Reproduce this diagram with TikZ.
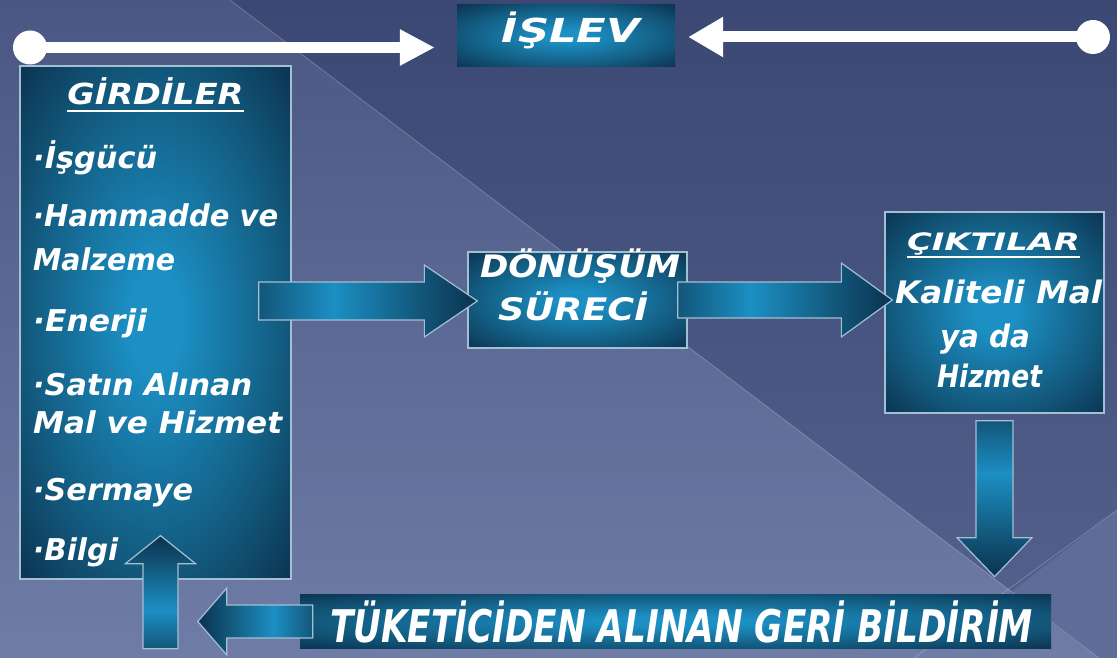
\documentclass[tikz,border=0pt]{standalone}
\usepackage{fontspec}
\setmainfont{DejaVu Sans}
\usepackage{graphicx}
\usetikzlibrary{calc,arrows.meta}

\definecolor{bgtop}{HTML}{3A4873}
\definecolor{bgbot}{HTML}{55628D}
\definecolor{lftop}{HTML}{4A5783}
\definecolor{lfbot}{HTML}{6E7CA6}
\definecolor{brcol}{HTML}{5F6C97}
\definecolor{boxbright}{HTML}{1C8FC3}
\definecolor{boxmid}{HTML}{125679}
\definecolor{boxdark}{HTML}{0B3250}
\definecolor{edgecol}{HTML}{A3BFD2}

\pgfdeclareradialshading{boxshade}{\pgfpoint{0bp}{0bp}}{color(0bp)=(boxbright); color(5bp)=(boxbright); color(25bp)=(boxmid); color(36bp)=(boxdark); color(50bp)=(boxdark)}
\pgfdeclarehorizontalshading{arrshade}{100bp}{color(0bp)=(boxmid); color(25bp)=(boxmid); color(42bp)=(boxbright); color(62bp)=(boxmid); color(75bp)=(boxdark); color(100bp)=(boxdark)}

\newcommand{\fitw}[2]{\resizebox{#1}{\height}{#2}}

\newcommand{\blockarr}[6]{%
  \coordinate (ba-h) at ($(#2)!#5!(#1)$);
  \path[#6] ($(#1)!#3!90:(#2)$) -- ($(ba-h)!#3!90:(#2)$) -- ($(ba-h)!#4!90:(#2)$) -- (#2) -- ($(ba-h)!#4!-90:(#2)$) -- ($(ba-h)!#3!-90:(#2)$) -- ($(#1)!#3!-90:(#2)$) -- cycle;}

\tikzset{
  boxn/.style={rectangle, draw=edgecol, line width=1.3pt, shade, shading=boxshade, inner sep=0pt},
  boxnb/.style={rectangle, shade, shading=boxshade, inner sep=0pt},
  barrow/.style={draw=edgecol, line width=1.2pt, shade, shading=arrshade},
  txt/.style={text=white, inner sep=0pt, font=\bfseries\itshape\fontsize{30}{34}\selectfont},
  wline/.style={white, line width=11pt},
  dotn/.style={circle, fill=white, minimum size=34pt, inner sep=0pt},
  bgline/.style={white, opacity=0.22, line width=0.8pt},
  uline/.style={white, line width=2pt}
}

\begin{document}
\begin{tikzpicture}[x=1pt,y=-1pt]
\useasboundingbox (0,0) rectangle (1117,658);
% background
\shade[top color=bgtop, bottom color=bgbot] (0,0) rectangle (1117,658);
\shade[top color=lftop, bottom color=lfbot] (0,0) -- (230,0) -- (1099,658) -- (0,658) -- cycle;
\fill[brcol] (1010,593) -- (1117,510) -- (1117,658) -- (1099,658) -- cycle;
\draw[bgline] (230,0) -- (1099,658);
\draw[bgline] (1117,510) -- (914,658);

% top function box and white arrows
\node[boxnb, minimum width=218pt, minimum height=62pt] (islev) at (566,36) {};
\node[txt, anchor=base] (islevt) at (571,43) {\fontsize{33}{36}\selectfont\fitw{138pt}{İŞLEV}};
\coordinate (lcc) at (30,47.5);
\coordinate (rcc) at (1093,37);
\coordinate (lt) at ($(islev.west)+(-22,11.5)$);
\coordinate (rt) at ($(islev.east)+(13,1)$);
\draw[wline, -{Triangle[length=35pt,width=34pt]}] (lcc) -- (lt);
\draw[wline, -{Triangle[length=35pt,width=38pt]}] (rcc) -- (rt);
\node[dotn] (lc) at (lcc) {};
\node[dotn] (rc) at (rcc) {};

% boxes
\node[boxn, minimum width=271pt, minimum height=513pt] (gir) at (155.5,322.5) {};
\node[boxn, minimum width=219pt, minimum height=96pt] (don) at (577.5,300) {};
\node[boxn, minimum width=219pt, minimum height=201pt] (cik) at (994.5,312.5) {};
\node[boxnb, minimum width=751pt, minimum height=54pt] (fb) at (675.5,621) {};

% inputs text
\node[txt, anchor=base] (gt) at (155.5,105) {\fontsize{29}{34}\selectfont\fitw{176pt}{GİRDİLER}};
\draw[uline] ([yshift=-6pt]gt.base west) -- ([yshift=-6pt]gt.base east);
\node[txt, anchor=base west] (g1) at (33,168) {\fitw{124pt}{·İşgücü}};
\node[txt, anchor=base west] (g2) at (33,226) {\fitw{245pt}{·Hammadde ve}};
\node[txt, anchor=base west] (g3) at (33,270) {\fitw{142pt}{Malzeme}};
\node[txt, anchor=base west] (g4) at (33,331) {\fitw{114pt}{·Enerji}};
\node[txt, anchor=base west] (g5) at (33,395) {\fitw{219pt}{·Satın Alınan}};
\node[txt, anchor=base west] (g6) at (33,433) {\fitw{249pt}{Mal ve Hizmet}};
\node[txt, anchor=base west] (g7) at (33,500) {\fitw{160pt}{·Sermaye}};
\node[txt, anchor=base west] (g8) at (33,560) {\fitw{85pt}{·Bilgi}};

% process text
\node[txt, anchor=base] (d1) at (580,277) {\fontsize{31}{36}\selectfont\fitw{200pt}{DÖNÜŞÜM}};
\node[txt, anchor=base] (d2) at (573,320) {\fontsize{31}{36}\selectfont\fitw{150pt}{SÜRECİ}};

% outputs text
\node[txt, anchor=base] (ct) at (993.5,250) {\fontsize{24}{30}\selectfont\fitw{173pt}{ÇIKTILAR}};
\draw[uline] ([yshift=-7pt]ct.base west) -- ([yshift=-7pt]ct.base east);
\node[txt, anchor=base] (c1) at (998.5,303) {\fontsize{31}{36}\selectfont\fitw{207pt}{Kaliteli Mal}};
\node[txt, anchor=base] (c2) at (985,347) {\fontsize{31}{36}\selectfont\fitw{90pt}{ya da}};
\node[txt, anchor=base] (c3) at (989.5,387) {\fontsize{31}{36}\selectfont\fitw{105pt}{Hizmet}};

% feedback text
\node[txt, anchor=base] (fbt) at (681.5,642) {\fontsize{45}{50}\selectfont\fitw{703pt}{TÜKETİCİDEN ALINAN GERİ BİLDİRİM}};

% block arrows
\coordinate (a1s) at ($(gir.east)+(-33,-21.5)$);
\coordinate (a1t) at ($(don.west)+(10,1)$);
\blockarr{a1s}{a1t}{19pt}{36pt}{53pt}{barrow}
\coordinate (a2s) at ($(don.east)+(-10,0)$);
\coordinate (a2t) at ($(cik.west)+(8,-12.5)$);
\blockarr{a2s}{a2t}{18pt}{37pt}{51pt}{barrow}
\coordinate (a3s) at ($(cik.south)+(0,7)$);
\coordinate (a3t) at ($(cik.south)+(0,163)$);
\blockarr{a3s}{a3t}{18.5pt}{37.5pt}{39pt}{barrow, shading angle=-90}
\coordinate (a4s) at ($(fb.west)+(13,0.5)$);
\coordinate (a4t) at ($(fb.west)+(-102,0.5)$);
\blockarr{a4s}{a4t}{16.5pt}{33.5pt}{29pt}{barrow, shading angle=180}
\coordinate (a5s) at ($(gir.south)+(5,69)$);
\coordinate (a5t) at ($(gir.south)+(5,-44)$);
\blockarr{a5s}{a5t}{17.5pt}{35pt}{28pt}{barrow, shading angle=90}
\end{tikzpicture}
\end{document}
